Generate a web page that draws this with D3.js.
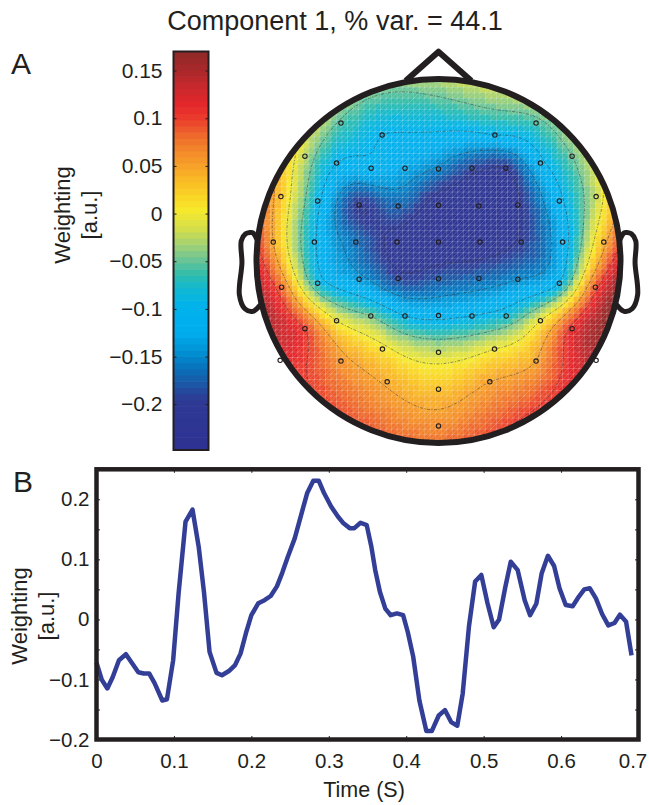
<!DOCTYPE html>
<html>
<head>
<meta charset="utf-8">
<script src="https://cdn.jsdelivr.net/npm/d3@7"></script>
<style>
	body { margin: 0; background: #fff; }
	svg { display: block; font-family: "Liberation Sans", Arial, Helvetica, sans-serif; fill: #231f20; }
	.axis text { font-size: 20.5px; fill: #231f20; }
	.axis line { stroke: #231f20; stroke-width: 1; }
	.axis .domain { display: none; }
</style>
</head>
<body>
<svg id="chart" width="649" height="805"></svg>
<script>

// ---------------- data ----------------

var titleText = 'Component 1, % var. = 44.1';

// channel positions on a unit head (radius 0.5) and the component weights
var chanX = [
	-0.268, 0.268, -0.155, 0.155, -0.367, 0.367, -0.280, 0.280, -0.185, -0.092, 0, 0.092, 0.185,
	-0.433, 0.433, -0.332, 0.332, -0.218, -0.111, 0, 0.111, 0.218,
	-0.454, -0.341, -0.227, -0.114, 0, 0.114, 0.227, 0.341, 0.454,
	-0.431, -0.332, -0.218, -0.111, 0, 0.111, 0.218, 0.332, 0.431,
	-0.367, -0.280, -0.186, -0.092, 0, 0.092, 0.186, 0.280, 0.367,
	-0.154, 0, 0.154, -0.268, 0.268, -0.435, 0.433,
	-0.141, 0.141, 0, 0
];
var chanY = [
	0.379, 0.379, 0.346, 0.346, 0.288, 0.288, 0.269, 0.269, 0.255, 0.255, 0.253, 0.255, 0.255,
	0.177, 0.177, 0.165, 0.165, 0.154, 0.151, 0.153, 0.151, 0.154,
	0.052, 0.052, 0.052, 0.052, 0.052, 0.052, 0.052, 0.052, 0.052,
	-0.072, -0.061, -0.050, -0.048, -0.049, -0.048, -0.050, -0.061, -0.072,
	-0.186, -0.164, -0.151, -0.151, -0.150, -0.151, -0.151, -0.164, -0.186,
	-0.242, -0.251, -0.242, -0.275, -0.275, -0.273, -0.273,
	-0.332, -0.332, -0.352, -0.453
];
var chanW = [
	-0.055, -0.06, -0.10, -0.10, -0.025, -0.05, -0.10, -0.11, -0.11, -0.13, -0.155, -0.19, -0.20,
	0.03, -0.02, -0.09, -0.11, -0.20, -0.17, -0.22, -0.22, -0.205,
	0.05, -0.095, -0.165, -0.21, -0.22, -0.22, -0.195, -0.12, 0.04,
	0.08, -0.08, -0.14, -0.19, -0.18, -0.17, -0.15, -0.10, 0.09,
	0.10, 0.0, -0.05, -0.10, -0.11, -0.10, -0.08, 0.0, 0.11,
	0.01, -0.02, 0.0, 0.06, 0.05, 0.12, 0.15,
	0.045, 0.05, 0.03, 0.065
];

var zLimits = [-0.248, 0.17];
var contourLevels = [-0.2, -0.15, -0.1, -0.05, 0, 0.05, 0.1];
var cbTicks = [0.15, 0.1, 0.05, 0, -0.05, -0.1, -0.15, -0.2];
var cbTickLabels = ['0.15', '0.1', '0.05', '0', '\u22120.05', '\u22120.1', '\u22120.15', '\u22120.2'];

// time course of the component
var timeS = [
	0.000, 0.007, 0.014, 0.021, 0.029, 0.038, 0.046, 0.054, 0.061, 0.068,
	0.075, 0.085, 0.091, 0.099, 0.106, 0.115, 0.124, 0.132, 0.139, 0.146,
	0.155, 0.162, 0.171, 0.179, 0.186, 0.193, 0.200, 0.209, 0.217, 0.225,
	0.233, 0.240, 0.247, 0.256, 0.263, 0.272, 0.280, 0.287, 0.294, 0.303,
	0.312, 0.319, 0.327, 0.333, 0.341, 0.349, 0.355, 0.360, 0.366, 0.373,
	0.380, 0.388, 0.396, 0.402, 0.409, 0.417, 0.426, 0.433, 0.442, 0.450,
	0.458, 0.466, 0.473, 0.481, 0.489, 0.497, 0.505, 0.513, 0.520, 0.528,
	0.535, 0.544, 0.553, 0.560, 0.568, 0.575, 0.583, 0.591, 0.598, 0.606,
	0.615, 0.623, 0.630, 0.637, 0.645, 0.653, 0.661, 0.669, 0.676, 0.684,
	0.691
];
var weighting = [
	-0.072, -0.101, -0.115, -0.096, -0.068, -0.058, -0.073, -0.088, -0.090, -0.090,
	-0.106, -0.135, -0.133, -0.068, 0.043, 0.163, 0.183, 0.121, 0.043, -0.054,
	-0.089, -0.093, -0.086, -0.076, -0.057, -0.023, 0.007, 0.027, 0.032, 0.039,
	0.055, 0.078, 0.104, 0.135, 0.168, 0.210, 0.231, 0.231, 0.210, 0.188,
	0.171, 0.160, 0.152, 0.152, 0.161, 0.157, 0.121, 0.082, 0.046, 0.018,
	0.007, 0.010, 0.007, -0.021, -0.062, -0.135, -0.186, -0.186, -0.160, -0.151,
	-0.171, -0.177, -0.123, -0.012, 0.063, 0.074, 0.027, -0.013, 0.000, 0.054,
	0.096, 0.082, 0.032, 0.007, 0.026, 0.077, 0.106, 0.089, 0.052, 0.024,
	0.022, 0.038, 0.050, 0.052, 0.035, 0.009, -0.010, -0.006, 0.008, -0.004,
	-0.060
];

var xTicks = [0, 0.1, 0.2, 0.3, 0.4, 0.5, 0.6, 0.7];
var xTickLabels = ['0', '0.1', '0.2', '0.3', '0.4', '0.5', '0.6', '0.7'];
var yTicks = [-0.2, -0.15, -0.1, -0.05, 0, 0.05, 0.1, 0.15, 0.2];
var yTickLabels = ['\u22120.2', '', '\u22120.1', '', '0', '', '0.1', '', '0.2'];

// ---------------- styles ----------------

var ink = '#231f20';
var lineColor = '#333e97';
var jetStops = [-0.248, -0.195, -0.18, -0.165, -0.145, -0.125, -0.095, -0.078, -0.064, -0.048, -0.032,
	-0.016, 0.004, 0.028, 0.048, 0.066, 0.083, 0.1, 0.115, 0.13, 0.148, 0.17];
var jetColors = ['#2e3192', '#2e3a94', '#1d55a4', '#0b6db7', '#0091d2', '#00adee', '#00b3ea', '#12b8d0',
	'#30bcab', '#6dc495', '#a5d272', '#d3de4a', '#f7e92b', '#fac623', '#f7a428', '#f3892b', '#ee672b',
	'#eb3b2d', '#e4262b', '#cc292d', '#ad272b', '#8e2b28'];

var jet = d3.scaleLinear().domain(jetStops).range(jetColors).clamp(true);
var nBands = 64;
var dz = (zLimits[1] - zLimits[0]) / nBands;
var colorQ = d3.scaleQuantize()
	.domain(zLimits)
	.range(d3.range(nBands).map(function(i) { return jet(zLimits[0] + (i + 0.5) * dz); }));

var svg = d3.select('#chart');

svg.append('text')
	.attr('x', 335).attr('y', 30)
	.attr('text-anchor', 'middle')
	.style('font-size', '27px')
	.text(titleText);

svg.append('text').attr('x', 11).attr('y', 74).style('font-size', '30px').text('A');
svg.append('text').attr('x', 13).attr('y', 492).style('font-size', '30px').text('B');

function yLabel(x1, x2, yc) {
	svg.append('text')
		.attr('transform', 'translate(' + x1 + ',' + yc + ') rotate(-90)')
		.attr('text-anchor', 'middle')
		.style('font-size', '22px')
		.text('Weighting');
	svg.append('text')
		.attr('transform', 'translate(' + x2 + ',' + yc + ') rotate(-90)')
		.attr('text-anchor', 'middle')
		.style('font-size', '22px')
		.text('[a.u.]');
}

// ---------------- colorbar ----------------

(function() {
	var cbLeft = 173.5, cbRight = 208.5;
	var cbY = d3.scaleLinear().domain(zLimits).range([450, 51.5]);

	svg.append('g').selectAll('rect')
		.data(colorQ.range())
		.enter().append('rect')
		.attr('x', cbLeft)
		.attr('width', cbRight - cbLeft)
		.attr('y', function(d, i) { return cbY(zLimits[0] + (i + 1) * dz) - 0.3; })
		.attr('height', function(d, i) { return cbY(zLimits[0] + i * dz) - cbY(zLimits[0] + (i + 1) * dz) + 0.6; })
		.style('fill', function(d) { return d; });

	svg.append('rect')
		.attr('x', cbLeft).attr('y', 51.5)
		.attr('width', cbRight - cbLeft).attr('height', 450 - 51.5)
		.style('fill', 'none').style('stroke', ink).style('stroke-width', 2);

	svg.append('g')
		.attr('class', 'axis')
		.attr('transform', 'translate(' + cbLeft + ',0)')
		.call(d3.axisLeft(cbY).tickValues(cbTicks)
			.tickFormat(function(d, i) { return cbTickLabels[i]; })
			.tickSizeInner(-3).tickSizeOuter(0).tickPadding(11))
		.selectAll('text').style('font-size', '21px');

	svg.append('g')
		.attr('class', 'axis')
		.attr('transform', 'translate(' + cbRight + ',0)')
		.call(d3.axisRight(cbY).tickValues(cbTicks).tickFormat('').tickSizeInner(-3).tickSizeOuter(0));

	yLabel(70, 97, 215);
})();

// ---------------- topography ----------------

(function() {
	var cx = 438.5, cy = 261, R = 182;
	var hx = d3.scaleLinear().domain([-0.5, 0.5]).range([cx - R, cx + R]);
	var hy = d3.scaleLinear().domain([-0.5, 0.5]).range([cy + R, cy - R]);

	// biharmonic spline (same idea as griddata 'v4')
	function green(r) { return r > 0 ? r * r * (Math.log(r) - 1) : 0; }

	function solveLinear(A, b) {
		var n = b.length, i, j, k, t;
		for (k = 0; k < n; k++) {
			var p = k;
			for (i = k + 1; i < n; i++) if (Math.abs(A[i][k]) > Math.abs(A[p][k])) p = i;
			t = A[k]; A[k] = A[p]; A[p] = t;
			t = b[k]; b[k] = b[p]; b[p] = t;
			for (i = k + 1; i < n; i++) {
				var f = A[i][k] / A[k][k];
				for (j = k; j < n; j++) A[i][j] -= f * A[k][j];
				b[i] -= f * b[k];
			}
		}
		var x = new Array(n);
		for (i = n - 1; i >= 0; i--) {
			var s = b[i];
			for (j = i + 1; j < n; j++) s -= A[i][j] * x[j];
			x[i] = s / A[i][i];
		}
		return x;
	}

	var n = chanX.length;
	var G = [];
	for (var i = 0; i < n; i++) {
		var row = [];
		for (var j = 0; j < n; j++) row.push(green(Math.hypot(chanX[i] - chanX[j], chanY[i] - chanY[j])));
		G.push(row);
	}
	var wts = solveLinear(G, chanW.slice());

	function field(x, y) {
		var s = 0;
		for (var k = 0; k < n; k++) s += wts[k] * green(Math.hypot(x - chanX[k], y - chanY[k]));
		return s;
	}

	var gridN = 67, step = 1 / (gridN - 1);
	var cells = [], gridVals = new Array(gridN * gridN);
	for (var gj = 0; gj < gridN; gj++) {
		for (var gi = 0; gi < gridN; gi++) {
			var gx = -0.5 + gi * step, gy = 0.5 - gj * step;
			var v = field(gx, gy);
			gridVals[gj * gridN + gi] = v;
			cells.push({ x: gx, y: gy, v: v });
		}
	}

	svg.append('defs').append('clipPath').attr('id', 'head-clip')
		.append('circle').attr('cx', cx).attr('cy', cy).attr('r', R);

	var map = svg.append('g').attr('clip-path', 'url(#head-clip)');
	var cs = hx(step) - hx(0);

	map.append('g').selectAll('rect')
		.data(cells)
		.enter().append('rect')
		.attr('x', function(d) { return hx(d.x) - cs / 2 - 0.3; })
		.attr('y', function(d) { return hy(d.y) - cs / 2 - 0.3; })
		.attr('width', cs + 0.6)
		.attr('height', cs + 0.6)
		.style('fill', function(d) { return colorQ(d.v); });

	// faint mesh of the surface
	var x0 = hx(-0.5) - cs / 2, y0 = hy(0.5) - cs / 2, L = gridN * cs;
	var mesh = d3.path();
	for (var k = 0; k <= gridN; k++) {
		mesh.moveTo(x0 + k * cs, y0); mesh.lineTo(x0 + k * cs, y0 + L);
		mesh.moveTo(x0, y0 + k * cs); mesh.lineTo(x0 + L, y0 + k * cs);
	}
	for (k = -gridN; k <= gridN; k++) {
		mesh.moveTo(x0 + k * cs, y0 + L); mesh.lineTo(x0 + k * cs + L, y0);
	}
	map.append('path')
		.attr('d', mesh.toString())
		.style('fill', 'none').style('stroke', '#fff')
		.style('stroke-width', 0.6).style('stroke-opacity', 0.32);

	// contour lines
	var contours = d3.contours().size([gridN, gridN]).thresholds(contourLevels)(gridVals);
	var toPx = d3.geoTransform({
		point: function(px, py) {
			this.stream.point(hx(-0.5 + (px - 0.5) * step), hy(0.5 - (py - 0.5) * step));
		}
	});
	map.append('g').selectAll('path')
		.data(contours)
		.enter().append('path')
		.attr('d', d3.geoPath(toPx))
		.style('fill', 'none').style('stroke', '#333')
		.style('stroke-width', 0.7).style('stroke-opacity', 0.7)
		.style('stroke-dasharray', '3,1.5,1,1.5');

	// electrodes
	svg.append('g').selectAll('circle')
		.data(chanX)
		.enter().append('circle')
		.attr('cx', function(d) { return hx(d); })
		.attr('cy', function(d, i) { return hy(chanY[i]); })
		.attr('r', 2.2)
		.style('fill', 'none').style('stroke', ink).style('stroke-width', 1.1);

	// outline: head, nose, ears
	var earX = [0.497, 0.510, 0.518, 0.5299, 0.5419, 0.54, 0.547, 0.532, 0.510, 0.489];
	var earY = [0.0555, 0.0775, 0.0783, 0.0746, 0.0555, -0.0055, -0.0932, -0.1313, -0.1384, -0.1199];
	var outline = d3.line().x(function(d) { return hx(d[0]); }).y(function(d) { return hy(d[1]); });
	var earLine = d3.line().x(function(d) { return hx(d[0]); }).y(function(d) { return hy(d[1]); })
		.curve(d3.curveCatmullRom);

	var og = svg.append('g').style('fill', 'none').style('stroke', ink).style('stroke-linejoin', 'round');
	og.append('circle').attr('cx', cx).attr('cy', cy).attr('r', R).style('stroke-width', 6);
	og.append('path').attr('d', outline([[0.09, 0.4954], [0, 0.575], [-0.09, 0.4954]])).style('stroke-width', 6);
	og.append('path').attr('d', earLine(earX.map(function(d, i) { return [d, earY[i]]; }))).style('stroke-width', 5);
	og.append('path').attr('d', earLine(earX.map(function(d, i) { return [-d, earY[i]]; }))).style('stroke-width', 5);
})();

// ---------------- time course ----------------

(function() {
	var left = 96.5, right = 638.5, top = 469.3, bottom = 739.5;
	var x = d3.scaleLinear().domain([0, 0.7]).range([left, right]);
	var y = d3.scaleLinear().domain([-0.2, 0.25]).range([bottom, top]);

	var line = d3.line()
		.x(function(d) { return x(d); })
		.y(function(d, i) { return y(weighting[i]); });

	svg.append('path')
		.attr('d', line(timeS))
		.style('fill', 'none')
		.style('stroke', lineColor)
		.style('stroke-width', 4.5)
		.style('stroke-linejoin', 'round');

	svg.append('g').attr('class', 'axis').attr('transform', 'translate(' + left + ',0)')
		.call(d3.axisLeft(y).tickValues(yTicks)
			.tickFormat(function(d, i) { return yTickLabels[i]; })
			.tickSizeInner(-3.5).tickSizeOuter(0).tickPadding(7));
	svg.append('g').attr('class', 'axis').attr('transform', 'translate(' + right + ',0)')
		.call(d3.axisRight(y).tickValues(yTicks).tickFormat('').tickSizeInner(-3.5).tickSizeOuter(0));
	var xAxis = svg.append('g').attr('class', 'axis').attr('transform', 'translate(0,' + bottom + ')')
		.call(d3.axisBottom(x).tickValues(xTicks)
			.tickFormat(function(d, i) { return xTickLabels[i]; })
			.tickSizeInner(-3.5).tickSizeOuter(0).tickPadding(14));
	// last label sits a little inside, as in the original page edge
	xAxis.selectAll('text').filter(function(d) { return d === 0.7; }).attr('dx', -6);
	svg.append('g').attr('class', 'axis').attr('transform', 'translate(0,' + top + ')')
		.call(d3.axisTop(x).tickValues(xTicks).tickFormat('').tickSizeInner(-3.5).tickSizeOuter(0));

	svg.append('rect')
		.attr('x', left).attr('y', top)
		.attr('width', right - left).attr('height', bottom - top)
		.style('fill', 'none').style('stroke', ink).style('stroke-width', 4.5);

	svg.append('text')
		.attr('x', 364).attr('y', 797)
		.attr('text-anchor', 'middle')
		.style('font-size', '21.5px')
		.text('Time (S)');

	yLabel(27, 54, 616);
})();

</script>
</body>
</html>
